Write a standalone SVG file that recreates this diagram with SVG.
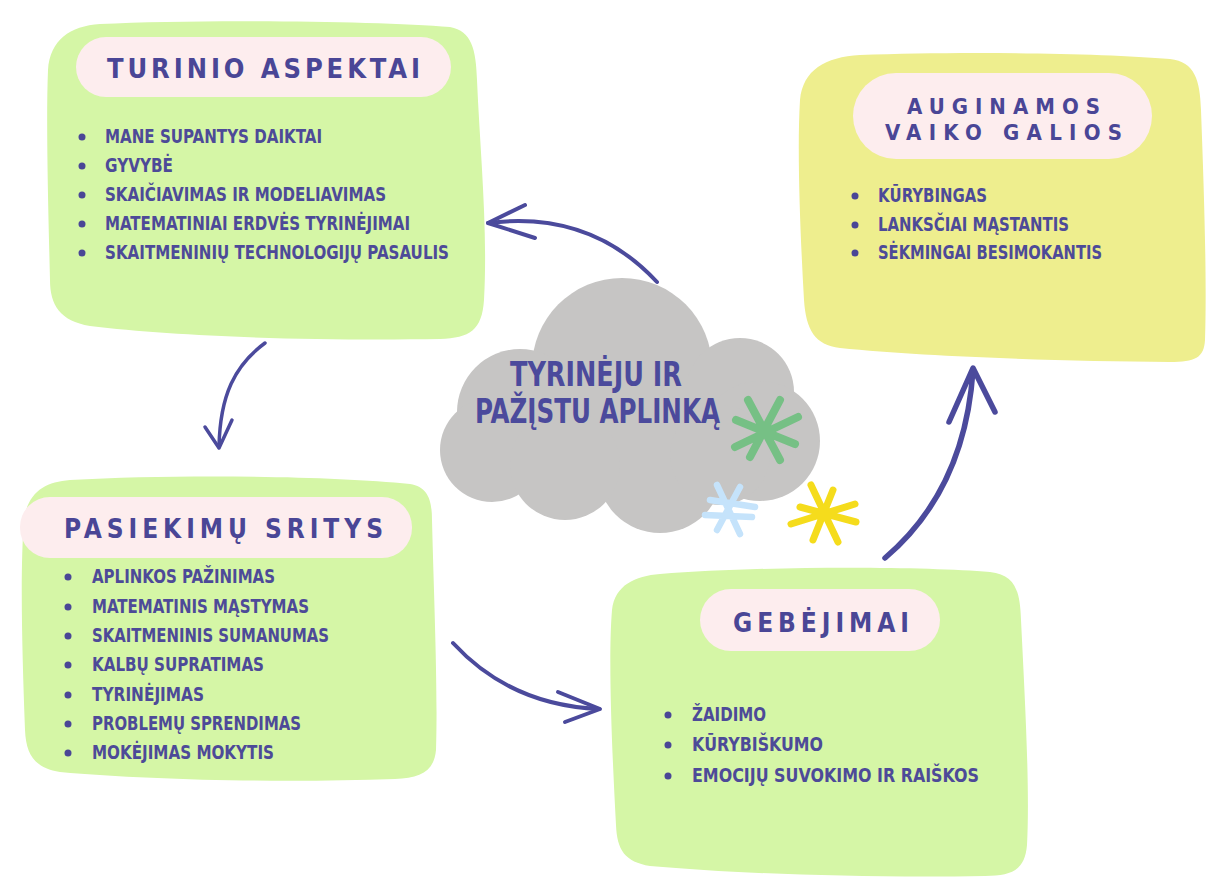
<svg xmlns="http://www.w3.org/2000/svg" width="1221" height="881" viewBox="0 0 1221 881">
<style>
.green{fill:#d5f6a6}
.yellow{fill:#eeee8e}
.pill{fill:#fdedee}
.title{font-family:"DejaVu Sans Condensed","Liberation Sans Narrow","Liberation Sans",sans-serif;font-weight:bold;fill:#4a4696}
.item{font-family:"DejaVu Sans Condensed","Liberation Sans Narrow","Liberation Sans",sans-serif;font-size:20px;font-weight:bold;fill:#4d4a98}
.bullet{fill:#4a4696}
.cloudtxt{font-family:"DejaVu Sans Condensed","Liberation Sans Narrow","Liberation Sans",sans-serif;font-weight:bold;font-size:34px;fill:#4b4a9c}
.arrow{fill:none;stroke:#4b4a9c;stroke-linecap:round;stroke-linejoin:round}
.cloud{fill:#c6c5c4}
</style>
<rect width="1221" height="881" fill="#ffffff"/>

<g id="node-turinio">
<path class="green" d="M100,24 C200,19 380,21 450,27 C472,31 476,50 477,80 C480,150 488,230 484,300 C482,330 470,338 440,339 C320,341 180,337 90,326 C60,321 50,305 50,280 C48,200 46,120 48,70 C50,40 70,26 100,24 Z"/>
<rect class="pill" x="76" y="37" width="375" height="60" rx="30"/>
<text class="title" x="107" y="78" font-size="27" textLength="313" lengthAdjust="spacing">TURINIO ASPEKTAI</text>
<circle class="bullet" cx="82" cy="137" r="3.5"/>
<circle class="bullet" cx="82" cy="166" r="3.5"/>
<circle class="bullet" cx="82" cy="195" r="3.5"/>
<circle class="bullet" cx="82" cy="224" r="3.5"/>
<circle class="bullet" cx="82" cy="253" r="3.5"/>
<text class="item" x="105" y="143" textLength="217" lengthAdjust="spacingAndGlyphs">MANE SUPANTYS DAIKTAI</text>
<text class="item" x="105" y="172" textLength="68" lengthAdjust="spacingAndGlyphs">GYVYBĖ</text>
<text class="item" x="105" y="201" textLength="281" lengthAdjust="spacingAndGlyphs">SKAIČIAVIMAS IR MODELIAVIMAS</text>
<text class="item" x="105" y="230" textLength="305" lengthAdjust="spacingAndGlyphs">MATEMATINIAI ERDVĖS TYRINĖJIMAI</text>
<text class="item" x="105" y="259" textLength="344" lengthAdjust="spacingAndGlyphs">SKAITMENINIŲ TECHNOLOGIJŲ PASAULIS</text>
</g>

<g id="node-galios">
<path class="yellow" d="M860,55 C960,51 1100,53 1170,59 C1195,62 1200,80 1201,110 C1204,190 1207,280 1205,340 C1204,358 1195,362 1170,362 C1060,361 930,357 840,348 C815,345 806,330 804,300 C800,230 797,150 800,100 C803,70 825,57 860,55 Z"/>
<rect class="pill" x="853" y="73" width="299" height="86" rx="43"/>
<text class="title" x="907" y="114" font-size="22" textLength="193" lengthAdjust="spacing">AUGINAMOS</text>
<text class="title" x="885" y="140" font-size="22" textLength="237" lengthAdjust="spacing">VAIKO GALIOS</text>
<circle class="bullet" cx="855" cy="196" r="3.5"/>
<circle class="bullet" cx="855" cy="225" r="3.5"/>
<circle class="bullet" cx="855" cy="253" r="3.5"/>
<text class="item" x="878" y="202" textLength="109" lengthAdjust="spacingAndGlyphs">KŪRYBINGAS</text>
<text class="item" x="878" y="231" textLength="191" lengthAdjust="spacingAndGlyphs">LANKSČIAI MĄSTANTIS</text>
<text class="item" x="878" y="259" textLength="224" lengthAdjust="spacingAndGlyphs">SĖKMINGAI BESIMOKANTIS</text>
</g>

<g id="node-pasiekimu">
<path class="green" d="M70,480 C180,474 330,476 410,484 C428,487 432,500 432,520 C434,600 438,690 436,750 C434,772 420,778 395,779 C280,783 150,780 60,772 C35,768 26,755 25,730 C22,650 20,570 24,520 C28,492 45,482 70,480 Z"/>
<rect class="pill" x="20" y="497" width="392" height="61" rx="30"/>
<text class="title" x="64" y="538" font-size="26" textLength="319" lengthAdjust="spacing">PASIEKIMŲ SRITYS</text>
<circle class="bullet" cx="68" cy="577" r="3.5"/>
<circle class="bullet" cx="68" cy="607" r="3.5"/>
<circle class="bullet" cx="68" cy="636" r="3.5"/>
<circle class="bullet" cx="68" cy="665" r="3.5"/>
<circle class="bullet" cx="68" cy="695" r="3.5"/>
<circle class="bullet" cx="68" cy="724" r="3.5"/>
<circle class="bullet" cx="68" cy="753" r="3.5"/>
<text class="item" x="92" y="583" textLength="183" lengthAdjust="spacingAndGlyphs">APLINKOS PAŽINIMAS</text>
<text class="item" x="92" y="613" textLength="217" lengthAdjust="spacingAndGlyphs">MATEMATINIS MĄSTYMAS</text>
<text class="item" x="92" y="642" textLength="237" lengthAdjust="spacingAndGlyphs">SKAITMENINIS SUMANUMAS</text>
<text class="item" x="92" y="671" textLength="172" lengthAdjust="spacingAndGlyphs">KALBŲ SUPRATIMAS</text>
<text class="item" x="92" y="701" textLength="112" lengthAdjust="spacingAndGlyphs">TYRINĖJIMAS</text>
<text class="item" x="92" y="730" textLength="209" lengthAdjust="spacingAndGlyphs">PROBLEMŲ SPRENDIMAS</text>
<text class="item" x="92" y="759" textLength="182" lengthAdjust="spacingAndGlyphs">MOKĖJIMAS MOKYTIS</text>
</g>

<g id="node-gebejimai">
<path class="green" d="M660,574 C760,566 920,566 990,572 C1015,575 1020,590 1021,620 C1025,700 1030,790 1027,845 C1025,870 1012,876 985,876 C870,878 740,874 650,866 C625,862 617,850 616,825 C612,750 608,660 612,610 C615,585 635,576 660,574 Z"/>
<rect class="pill" x="700" y="589" width="240" height="62" rx="31"/>
<text class="title" x="733" y="632" font-size="26" textLength="176" lengthAdjust="spacing">GEBĖJIMAI</text>
<circle class="bullet" cx="668" cy="715" r="3.5"/>
<circle class="bullet" cx="668" cy="745" r="3.5"/>
<circle class="bullet" cx="668" cy="776" r="3.5"/>
<text class="item" x="692" y="721" textLength="74" lengthAdjust="spacingAndGlyphs">ŽAIDIMO</text>
<text class="item" x="692" y="751" textLength="131" lengthAdjust="spacingAndGlyphs">KŪRYBIŠKUMO</text>
<text class="item" x="692" y="782" textLength="287" lengthAdjust="spacingAndGlyphs">EMOCIJŲ SUVOKIMO IR RAIŠKOS</text>
</g>

<g id="node-cloud">
<g class="cloud">
<circle cx="622" cy="368" r="90"/>
<circle cx="520" cy="412" r="63"/>
<circle cx="492" cy="450" r="52"/>
<circle cx="740" cy="392" r="54"/>
<circle cx="760" cy="441" r="60"/>
<circle cx="660" cy="470" r="63"/>
<circle cx="565" cy="465" r="55"/>
<circle cx="720" cy="455" r="50"/>
</g>
<text class="cloudtxt" x="510" y="386" textLength="172" lengthAdjust="spacingAndGlyphs">TYRINĖJU IR</text>
<text class="cloudtxt" x="475" y="423" textLength="245" lengthAdjust="spacingAndGlyphs">PAŽĮSTU APLINKĄ</text>
</g>

<g id="decorations" stroke-linecap="round" fill="none">
<g stroke="#76c085" stroke-width="8" transform="translate(763,432)">
<path d="M-15,-32 L17,28 M17,-32 L-13,25 M35,-15 L-28,15 M-27,-12 L32,12"/>
</g>
<g stroke="#c5e3fb" stroke-width="6.5" transform="translate(730,507)">
<path d="M-13,-22 L10,27 M10,-20 L-13,23 M25,0 L-20,-7 M22,10 L-25,8"/>
</g>
<g stroke="#f5dc1c" stroke-width="7" transform="translate(823,512)">
<path d="M-12,-27 L15,30 M10,-22 L-10,28 M32,-8 L-32,12 M-23,-5 L33,10"/>
</g>
</g>

<g id="connectors">
<path class="arrow" stroke-width="4" d="M657,282 Q590,210 488,223"/>
<path class="arrow" stroke-width="4" d="M525,205 L488,223 L535,238"/>
<path class="arrow" stroke-width="3.5" d="M265,343 C235,365 220,395 219,447"/>
<path class="arrow" stroke-width="3.5" d="M205,427 L219,448 L232,420"/>
<path class="arrow" stroke-width="4" d="M453,643 Q510,705 599,709"/>
<path class="arrow" stroke-width="4" d="M558,692 L600,709 L565,722"/>
<path class="arrow" stroke-width="5.5" d="M885,558 Q965,490 973,370"/>
<path class="arrow" stroke-width="5.5" d="M949,422 L973,368 L995,412"/>
</g>
</svg>
